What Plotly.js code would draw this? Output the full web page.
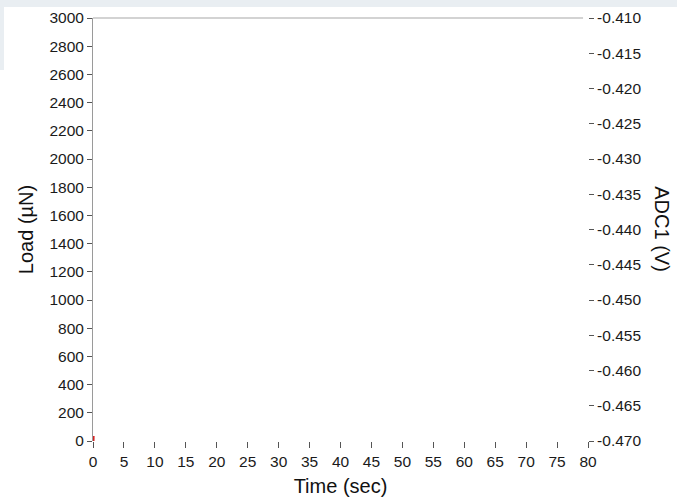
<!DOCTYPE html>
<html>
<head>
<meta charset="utf-8">
<script src="https://cdn.plot.ly/plotly-3.0.1.min.js"></script>
<style>
  html, body { margin: 0; padding: 0; background: #e9eef2; width: 677px; height: 500px; overflow: hidden; }
  #wrap { position: absolute; left: 0; top: 7px; width: 677px; height: 493px; background: #fff; }
  #strip { position: absolute; left: 0; top: 7px; width: 4px; height: 63px; background: #e9eef2; z-index: 5; }
  #chart { position: absolute; left: 0; top: -7px; width: 677px; height: 500px; }
</style>
</head>
<body>
<div id="wrap"><div id="chart"></div></div>
<div id="strip"></div>
<script>
// Data
const timeSec = [0, 0.02];
const loadUN = [0, 35];

const xTicks = [0,5,10,15,20,25,30,35,40,45,50,55,60,65,70,75,80];
const loadTicks = [0,200,400,600,800,1000,1200,1400,1600,1800,2000,2200,2400,2600,2800,3000];
const adcTickVals = [-0.470,-0.465,-0.460,-0.455,-0.450,-0.445,-0.440,-0.435,-0.430,-0.425,-0.420,-0.415,-0.410];
const adcTickText = ["-0.470","-0.465","-0.460","-0.455","-0.450","-0.445","-0.440","-0.435","-0.430","-0.425","-0.420","-0.415","-0.410"];

const fontFam = "Liberation Sans, Arial, sans-serif";
const tickSize = 15.5;
const titleSize = 20;

const traces = [
  {
    x: timeSec, y: loadUN, type: 'scatter', mode: 'lines',
    line: {color: '#d62020', width: 3}, showlegend: false, hoverinfo: 'skip', cliponaxis: false
  },
  {
    x: [], y: [], yaxis: 'y2', type: 'scatter', mode: 'lines', showlegend: false
  }
];

const layout = {
  width: 677, height: 500,
  margin: {l: 93, r: 89, t: 18, b: 59, pad: 0},
  paper_bgcolor: 'rgba(0,0,0,0)',
  plot_bgcolor: '#ffffff',
  font: {family: fontFam, size: tickSize, color: '#1a1a1a'},
  showlegend: false,
  xaxis: {
    range: [0, 80], tickvals: xTicks, ticktext: xTicks.map(String),
    ticks: 'outside', ticklen: 6, tickwidth: 1, tickcolor: '#555',
    showline: false, showgrid: false, zeroline: false,
    tickfont: {family: fontFam, size: tickSize, color: '#1a1a1a'},
    title: {text: 'Time (sec)', font: {family: fontFam, size: titleSize, color: '#111'}, standoff: 10}
  },
  yaxis: {
    range: [0, 3000], tickvals: loadTicks, ticktext: loadTicks.map(String),
    ticks: 'outside', ticklen: 5, tickwidth: 1, tickcolor: '#555',
    showline: true, linecolor: '#9a9a9a', linewidth: 1,
    showgrid: false, zeroline: false,
    tickfont: {family: fontFam, size: tickSize, color: '#1a1a1a'},
    title: {text: 'Load (µN)', font: {family: fontFam, size: titleSize, color: '#111'}, standoff: 10}
  },
  yaxis2: {
    overlaying: 'y', side: 'right',
    range: [-0.470, -0.410], tickvals: adcTickVals, ticktext: adcTickText,
    ticks: 'outside', ticklen: 5, tickwidth: 1, tickcolor: '#555',
    showline: false, showgrid: false, zeroline: false,
    tickfont: {family: fontFam, size: tickSize, color: '#1a1a1a'}
  },
  shapes: [
    {type: 'line', xref: 'paper', yref: 'paper', x0: 0, x1: 0.99, y0: 1, y1: 1,
     line: {color: '#c4c4c4', width: 1.5}}
  ],
  annotations: [
    {text: 'ADC1 (V)', xref: 'paper', yref: 'paper', x: 1.15, y: 0.5,
     xanchor: 'center', yanchor: 'middle', textangle: 90, showarrow: false,
     font: {family: fontFam, size: titleSize, color: '#111'}}
  ]
};

Plotly.newPlot('chart', traces, layout, {staticPlot: true, displayModeBar: false});
</script>
</body>
</html>
